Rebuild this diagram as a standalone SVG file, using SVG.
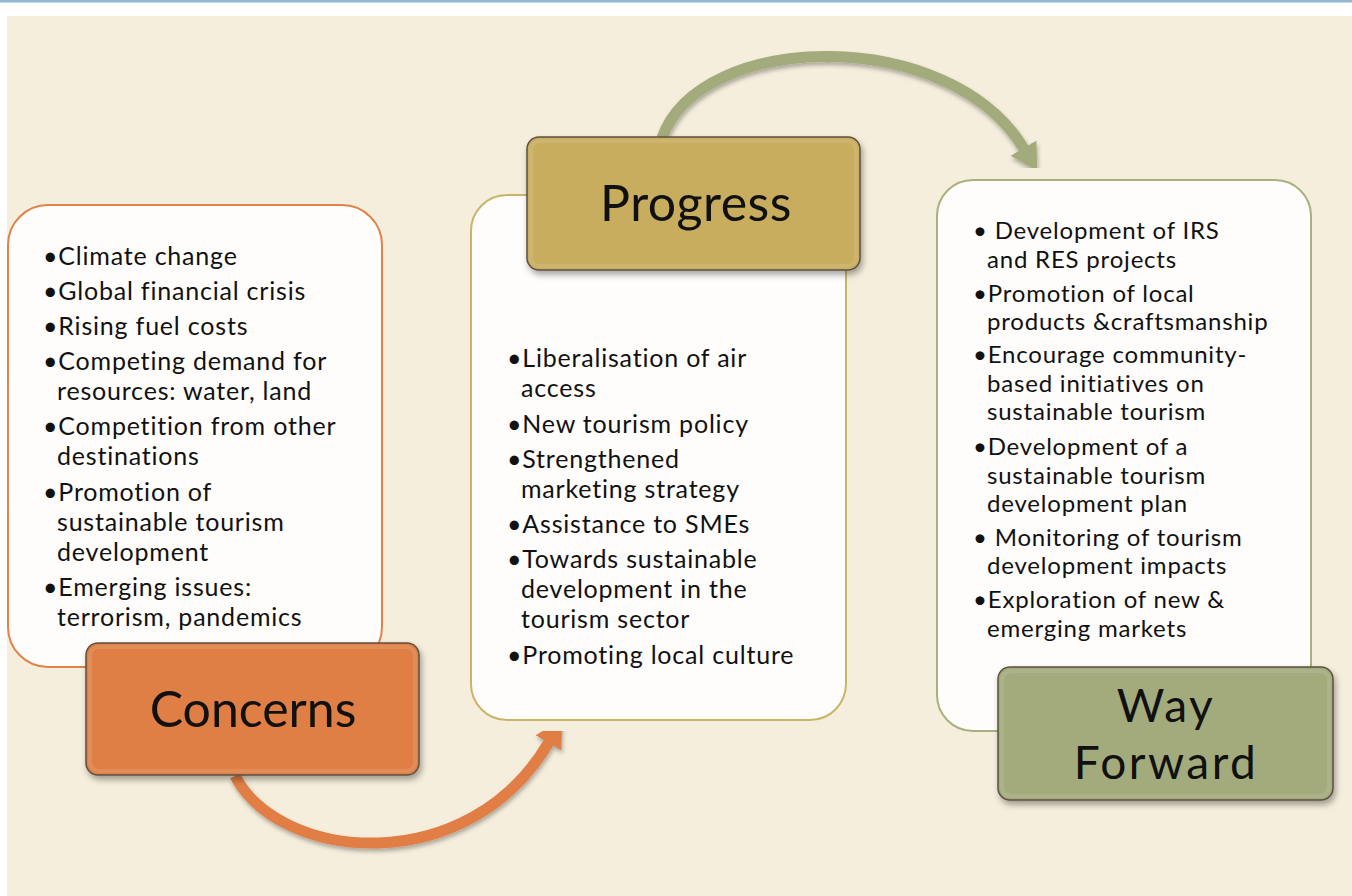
<svg xmlns="http://www.w3.org/2000/svg" width="1352" height="896" viewBox="0 0 1352 896">
<defs>
<style>
.body{font-family:Lato,"Liberation Sans",sans-serif;font-size:25px;letter-spacing:0.8px;fill:#111;}
.wf{font-size:24px;}
.lbl{font-family:Lato,"Liberation Sans",sans-serif;font-size:50px;fill:#111;text-anchor:middle;}
.tbox{fill:#FEFDFB;stroke-width:2;}
.lab{stroke:#5E5040;stroke-width:1.5;filter:url(#sh);}
.bevel{fill:none;stroke:#ffffff;stroke-opacity:0.1;stroke-width:4;}
.conn{fill:none;stroke-width:11;filter:url(#sh2);}
</style>
<filter id="sh" x="-10%" y="-10%" width="125%" height="130%">
<feDropShadow dx="2" dy="4" stdDeviation="3" flood-color="#000" flood-opacity="0.35"/>
</filter>
<filter id="sh2" x="-10%" y="-10%" width="125%" height="130%">
<feDropShadow dx="1" dy="3" stdDeviation="2" flood-color="#000" flood-opacity="0.3"/>
</filter>
<marker id="hO" markerUnits="userSpaceOnUse" markerWidth="30" markerHeight="32" refX="1" refY="16" orient="auto">
<path d="M0,1 L27,16 L0,31 z" fill="#E07E45"/>
</marker>
<marker id="hG" markerUnits="userSpaceOnUse" markerWidth="30" markerHeight="32" refX="1" refY="16" orient="auto">
<path d="M0,1 L27,16 L0,31 z" fill="#A3AB7C"/>
</marker>
</defs>
<rect x="0" y="0" width="1352" height="896" fill="#ffffff"/>
<rect x="0" y="0" width="1352" height="2.5" fill="#94B6D2"/>
<rect x="7" y="16" width="1345" height="880" fill="#F5EEDD"/>

<g id="concerns-box">
<rect class="tbox" x="8" y="205" width="374" height="462" rx="40" stroke="#E0834A"/>
<text class="body">
<tspan x="43" y="265">•Climate change</tspan>
<tspan x="43" y="300">•Global financial crisis</tspan>
<tspan x="43" y="335">•Rising fuel costs</tspan>
<tspan x="43" y="370">•Competing demand for</tspan>
<tspan x="57" y="400">resources: water, land</tspan>
<tspan x="43" y="435">•Competition from other</tspan>
<tspan x="57" y="465">destinations</tspan>
<tspan x="43" y="501">•Promotion of</tspan>
<tspan x="57" y="531">sustainable tourism</tspan>
<tspan x="57" y="561">development</tspan>
<tspan x="43" y="596">•Emerging issues:</tspan>
<tspan x="57" y="626">terrorism, pandemics</tspan>
</text>
</g>

<g id="progress-box">
<rect class="tbox" x="471" y="195" width="375" height="525" rx="36" stroke="#C9B46A"/>
<text class="body">
<tspan x="507" y="367">•Liberalisation of air</tspan>
<tspan x="521" y="397">access</tspan>
<tspan x="507" y="433">•New tourism policy</tspan>
<tspan x="507" y="468">•Strengthened</tspan>
<tspan x="521" y="498">marketing strategy</tspan>
<tspan x="507" y="533">•Assistance to SMEs</tspan>
<tspan x="507" y="568">•Towards sustainable</tspan>
<tspan x="521" y="598">development in the</tspan>
<tspan x="521" y="628">tourism sector</tspan>
<tspan x="507" y="664">•Promoting local culture</tspan>
</text>
</g>

<g id="wayforward-box">
<rect class="tbox" x="937" y="180" width="374" height="551" rx="36" stroke="#A8B080"/>
<text class="body wf">
<tspan x="973" y="239">• Development of IRS</tspan>
<tspan x="987" y="268">and RES projects</tspan>
<tspan x="973" y="302">•Promotion of local</tspan>
<tspan x="987" y="330">products &amp;craftsmanship</tspan>
<tspan x="973" y="363">•Encourage community-</tspan>
<tspan x="987" y="392">based initiatives on</tspan>
<tspan x="987" y="420">sustainable tourism</tspan>
<tspan x="973" y="455">•Development of a</tspan>
<tspan x="987" y="484">sustainable tourism</tspan>
<tspan x="987" y="512">development plan</tspan>
<tspan x="973" y="546">• Monitoring of tourism</tspan>
<tspan x="987" y="574">development impacts</tspan>
<tspan x="973" y="608">•Exploration of new  &amp;</tspan>
<tspan x="987" y="637">emerging markets</tspan>
</text>
</g>

<g id="connectors">
<path class="conn" d="M235,776 C280,862 468,880 549,742" stroke="#E07E45" marker-end="url(#hO)"/>
<path class="conn" d="M662,138 C700,30 950,25 1024,149" stroke="#A3AB7C" marker-end="url(#hG)"/>
</g>

<g id="concerns">
<rect class="lab" x="86" y="643" width="333" height="132" rx="12" fill="#DF7F45"/>
<rect class="bevel" x="90" y="647" width="325" height="124" rx="9"/>
<text class="lbl" x="253" y="727">Concerns</text>
</g>

<g id="progress">
<rect class="lab" x="527" y="137" width="333" height="133" rx="12" fill="#C8AD5F"/>
<rect class="bevel" x="531" y="141" width="325" height="125" rx="9"/>
<text class="lbl" x="696" y="221" style="letter-spacing:0.5px">Progress</text>
</g>

<g id="wayforward">
<rect class="lab" x="998" y="667" width="335" height="133" rx="12" fill="#A3AB7D"/>
<rect class="bevel" x="1002" y="671" width="327" height="125" rx="9"/>
<text class="lbl" style="font-size:46px;letter-spacing:2.5px"><tspan x="1166" y="722">Way</tspan><tspan x="1166" y="779">Forward</tspan></text>
</g>
</svg>
